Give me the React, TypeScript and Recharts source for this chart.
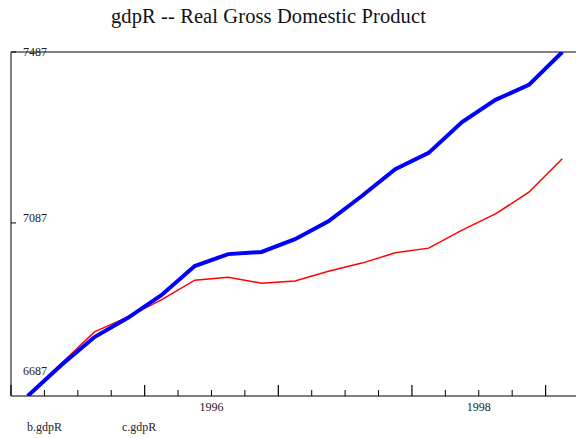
import React from 'react';
import { LineChart, Line, XAxis, YAxis, ReferenceLine, Legend } from 'recharts';

const quarters = [
  '1995Q1', '1995Q2', '1995Q3', '1995Q4',
  '1996Q1', '1996Q2', '1996Q3', '1996Q4',
  '1997Q1', '1997Q2', '1997Q3', '1997Q4',
  '1998Q1', '1998Q2', '1998Q3', '1998Q4',
  '1999Q1',
];
const bGdpR = [6682, 6754, 6820, 6865, 6918, 6986, 7014, 7019, 7049, 7091, 7150, 7213, 7251, 7323, 7375, 7410, 7487];
const cGdpR = [6682, 6758, 6832, 6867, 6907, 6953, 6960, 6946, 6951, 6974, 6993, 7017, 7028, 7070, 7108, 7159, 7237];

const seriesNames = ['b.gdpR', 'c.gdpR'];
const yTicks = [6687, 7087, 7487];
const xTicks = [
  1995, 1995.25, 1995.5, 1995.75, 1996, 1996.25, 1996.5, 1996.75,
  1997, 1997.25, 1997.5, 1997.75, 1998, 1998.25, 1998.5, 1998.75,
  1999, 1999.25,
];
const xLabels = [
  { at: 1996.5, label: '1996' },
  { at: 1998.5, label: '1998' },
];

// place each quarter in the middle of its quarter
const toTime = (q: string) => {
  const year = Number(q.slice(0, 4));
  const qn = Number(q.slice(5));
  return year + (qn - 1) * 0.25 + 0.125;
};

const data = quarters.map((q, i) => ({
  t: toTime(q),
  b: bGdpR[i],
  c: cGdpR[i],
}));

const FONT = '"Liberation Serif", "DejaVu Serif", serif';

const LeftTick = (props: any) => {
  const { x, y, payload } = props;
  const base = Math.min(Math.max(y - 1, 56), 375);
  const isBottom = payload.value === yTicks[0];
  return (
    <g>
      {!isBottom && <line x1={x} x2={x + 5} y1={y} y2={y} stroke="#000" strokeWidth={1} />}
      <text x={x + 12} y={base} fontSize={12} fontFamily={FONT} fill="#222" textAnchor="start">
        {payload.value}
      </text>
    </g>
  );
};

const RightTick = (props: any) => {
  const { x, y } = props;
  return <line x1={x - 5} x2={x} y1={y} y2={y} stroke="#000" strokeWidth={1} />;
};

const BottomTick = (props: any) => {
  const { x, y, payload } = props;
  const v = payload.value;
  const major = Number.isInteger(v);
  const lab = xLabels.find((l) => l.at === v);
  return (
    <g>
      <line x1={x} x2={x} y1={y} y2={y - (major ? 11 : 6)} stroke="#000" strokeWidth={major ? 1.2 : 1} />
      {lab && (
        <text x={x} y={y + 15} fontSize={12} fontFamily={FONT} fill="#222" textAnchor="middle">
          {lab.label}
        </text>
      )}
    </g>
  );
};

const LegendContent = () => (
  <div style={{ position: 'relative', height: 20, fontFamily: FONT, fontSize: 12, color: '#222' }}>
    <span style={{ position: 'absolute', left: 27, top: 2 }}>{seriesNames[0]}</span>
    <span style={{ position: 'absolute', left: 122, top: 2 }}>{seriesNames[1]}</span>
  </div>
);

export default function App() {
  return (
    <div
      style={{
        position: 'absolute',
        left: 0,
        top: 0,
        width: 576,
        height: 438,
        overflow: 'hidden',
        background: '#fff',
      }}
    >
      <div
        style={{
          position: 'absolute',
          left: 111,
          top: 5,
          whiteSpace: 'nowrap',
          fontFamily: FONT,
          fontSize: 20.5,
          letterSpacing: 0.1,
          color: '#111',
        }}
      >
        gdpR -- Real Gross Domestic Product
      </div>
      <div style={{ position: 'absolute', left: 0, top: 0 }}>
        <LineChart width={580} height={438} data={data} margin={{ top: 52, right: 1, bottom: 0, left: 0 }}>
          <XAxis
            dataKey="t"
            type="number"
            domain={[1995, 1999.25]}
            ticks={xTicks}
            interval={0}
            height={22}
            tickSize={0}
            tickMargin={0}
            tick={BottomTick}
            axisLine={{ stroke: '#000', strokeWidth: 1.2 }}
            allowDataOverflow
          />
          <YAxis
            yAxisId="l"
            type="number"
            domain={[6682, 7487]}
            ticks={yTicks}
            width={11}
            tickSize={0}
            tickMargin={0}
            tick={LeftTick}
            axisLine={{ stroke: '#808080', strokeWidth: 2 }}
            allowDataOverflow
          />
          <YAxis
            yAxisId="r"
            orientation="right"
            type="number"
            domain={[6682, 7487]}
            ticks={yTicks}
            width={0}
            tickSize={0}
            tickMargin={0}
            tick={RightTick}
            axisLine={{ stroke: '#808080', strokeWidth: 2 }}
            allowDataOverflow
          />
          <ReferenceLine yAxisId="l" y={7487} stroke="#808080" strokeWidth={2} />
          <Legend verticalAlign="bottom" height={20} content={LegendContent} />
          <Line
            yAxisId="l"
            dataKey="c"
            name={seriesNames[1]}
            stroke="#ff0000"
            strokeWidth={1.5}
            dot={false}
            isAnimationActive={false}
          />
          <Line
            yAxisId="l"
            dataKey="b"
            name={seriesNames[0]}
            stroke="#0000ff"
            strokeWidth={4}
            dot={false}
            isAnimationActive={false}
          />
        </LineChart>
      </div>
    </div>
  );
}
